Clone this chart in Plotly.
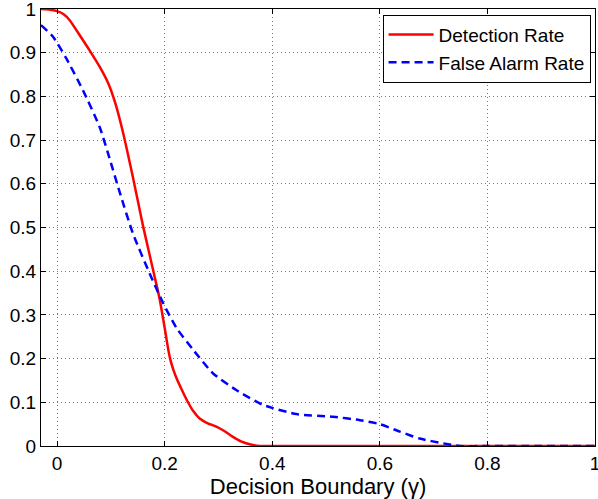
import plotly.graph_objects as go

det_x = [-0.03, -0.015, 0.0, 0.012, 0.023, 0.042, 0.06, 0.079, 0.095, 0.108, 0.12, 0.13, 0.14,
         0.15, 0.16, 0.17, 0.18, 0.19, 0.2, 0.205, 0.21, 0.216, 0.223, 0.232, 0.242, 0.253,
         0.265, 0.28, 0.295, 0.31, 0.327, 0.343, 0.358, 0.377, 0.4, 0.45, 0.6, 0.8, 1.0]
det_y = [1.0, 0.999, 0.995, 0.988, 0.975, 0.94, 0.906, 0.868, 0.83, 0.785, 0.73, 0.677, 0.62,
         0.561, 0.502, 0.448, 0.394, 0.34, 0.27, 0.232, 0.2, 0.175, 0.152, 0.128, 0.103, 0.08,
         0.063, 0.052, 0.045, 0.035, 0.021, 0.01, 0.004, 0.0, 0.0, 0.0, 0.0, 0.0, 0.0]

fa_x = [-0.03, -0.008, 0.017, 0.048, 0.079, 0.098, 0.116, 0.141, 0.172, 0.197, 0.222, 0.253,
        0.29, 0.333, 0.383, 0.445, 0.513, 0.563, 0.6, 0.637, 0.674, 0.718, 0.749,
        0.8, 0.9, 1.0]
fa_y = [0.963, 0.937, 0.887, 0.814, 0.73, 0.656, 0.582, 0.486, 0.395, 0.327, 0.27, 0.22,
        0.166, 0.128, 0.094, 0.073, 0.067, 0.059, 0.05, 0.033, 0.017, 0.006, 0.0,
        0.0, 0.0, 0.0]

x_ticks = [0, 0.2, 0.4, 0.6, 0.8, 1]
x_labels = ["0", "0.2", "0.4", "0.6", "0.8", "1"]
y_ticks = [0, 0.1, 0.2, 0.3, 0.4, 0.5, 0.6, 0.7, 0.8, 0.9, 1]
y_labels = ["0", "0.1", "0.2", "0.3", "0.4", "0.5", "0.6", "0.7", "0.8", "0.9", "1"]

fig = go.Figure()
fig.add_trace(go.Scatter(x=det_x, y=det_y, mode="lines", name="Detection Rate",
                         line=dict(color="#ff0000", width=2.5, shape="spline", smoothing=0.6)))
fig.add_trace(go.Scatter(x=fa_x, y=fa_y, mode="lines", name="False Alarm Rate",
                         line=dict(color="#0000ff", width=2.5, dash="8px,5px", shape="spline", smoothing=0.6)))

axis_common = dict(showline=True, linecolor="black", linewidth=1, mirror="ticks",
                   ticks="inside", ticklen=5, tickcolor="black", automargin=False,
                   ticklabeloverflow="allow",
                   showgrid=True, gridcolor="#777777", griddash="1px,3px", gridwidth=1,
                   zeroline=False, tickfont=dict(family="Liberation Sans, Arial", size=19, color="black"))

fig.update_layout(
    width=598, height=499,
    margin=dict(l=41, r=3, t=9, b=53),
    plot_bgcolor="white", paper_bgcolor="white",
    font=dict(family="Liberation Sans, Arial", color="black"),
    xaxis=dict(range=[-0.03, 1.0], tickvals=x_ticks, ticktext=x_labels,
               title=dict(text="Decision Boundary (γ)", font=dict(size=22), standoff=0), **axis_common),
    yaxis=dict(range=[0, 1.0], tickvals=y_ticks, ticktext=y_labels, **axis_common),
    legend=dict(x=0.992, y=0.987, xanchor="right", yanchor="top", bgcolor="white",
                bordercolor="black", borderwidth=1, font=dict(size=19),
                tracegroupgap=0, itemwidth=45),
    showlegend=True,
)

fig.write_html("out.html", config={"displayModeBar": False},
               post_script="document.body.style.margin='0';document.body.style.padding='0';")
